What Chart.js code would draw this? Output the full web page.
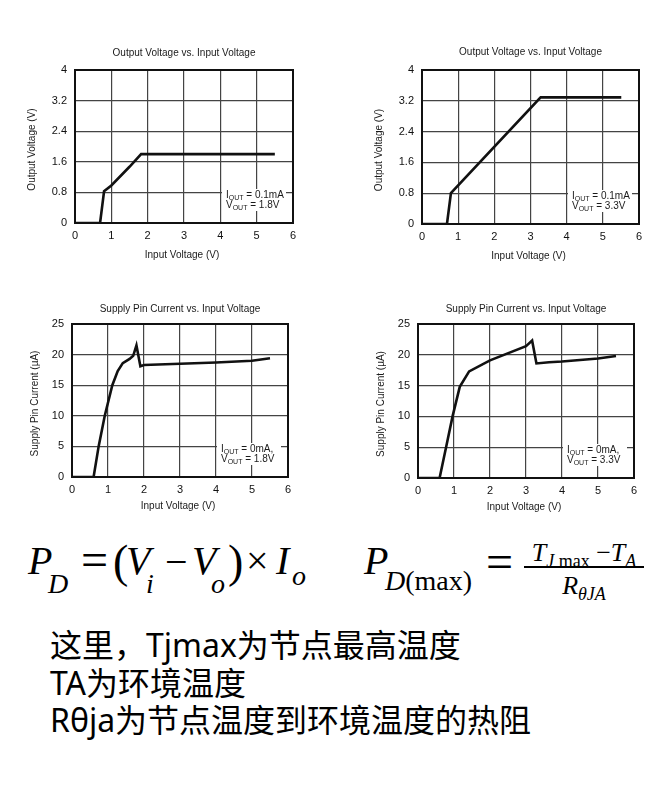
<!DOCTYPE html>
<html>
<head>
<meta charset="utf-8">
<script src="https://cdn.jsdelivr.net/npm/chart.js@4.4.1/dist/chart.umd.min.js"></script>
<style>
  html, body { margin: 0; padding: 0; background: #fff; }
  body { width: 654px; height: 785px; position: relative; overflow: hidden; }
  canvas.plot { position: absolute; }
  .g { position: absolute; font-family: 'Liberation Serif', 'Times New Roman', serif; color: #000; white-space: nowrap; line-height: 1; }
  .it { font-style: italic; }
  .frac { position: absolute; text-align: center; font-family: 'Liberation Serif', 'Times New Roman', serif; color: #000; white-space: nowrap; line-height: 1; font-size: 26px; }
  .frac .s { font-size: 18px; position: relative; top: 6px; }
  .txt { position: absolute; left: 50px; font-family: 'Noto Sans', 'Noto Sans CJK SC', sans-serif; font-size: 32px; line-height: 36px; color: #000; white-space: nowrap; }
</style>
</head>
<body>
<canvas class="plot" id="c1" width="327" height="230" style="left:0;top:40px"></canvas>
<canvas class="plot" id="c2" width="327" height="230" style="left:327px;top:40px"></canvas>
<canvas class="plot" id="c3" width="327" height="225" style="left:0;top:295px"></canvas>
<canvas class="plot" id="c4" width="327" height="225" style="left:327px;top:295px"></canvas>

<!-- P_D = (Vi - Vo) x Io   (top = baseline - 0.8375 * size) -->
<span class="g it" style="left:28px;top:541px;font-size:40px">P</span>
<span class="g it" style="left:48px;top:570px;font-size:28px">D</span>
<span class="g" style="left:81px;top:536px;font-size:48px">=</span>
<span class="g" style="left:113px;top:539px;font-size:46px">(</span>
<span class="g it" style="left:126px;top:541px;font-size:40px">V</span>
<span class="g it" style="left:146px;top:570px;font-size:28px">i</span>
<span class="g" style="left:165px;top:542px;font-size:40px">−</span>
<span class="g it" style="left:192px;top:541px;font-size:40px">V</span>
<span class="g it" style="left:211px;top:570px;font-size:28px">o</span>
<span class="g" style="left:228px;top:539px;font-size:46px">)</span>
<span class="g" style="left:246px;top:541px;font-size:40px">×</span>
<span class="g it" style="left:276px;top:541px;font-size:40px">I</span>
<span class="g it" style="left:292px;top:562px;font-size:28px">o</span>

<!-- P_D(max) = (TJmax - TA) / RthetaJA -->
<span class="g it" style="left:364px;top:541px;font-size:40px">P</span>
<span class="g" style="left:385px;top:567px;font-size:28px"><i>D</i>(max)</span>
<span class="g" style="left:486px;top:538px;font-size:48px">=</span>
<div class="frac" style="left:524px;top:540px;width:120px"><i>T</i><span class="s"><i>J</i> max</span> −<i>T</i><span class="s"><i>A</i></span></div>
<div style="position:absolute;left:524px;top:566px;width:120px;height:1.5px;background:#000"></div>
<div class="frac" style="left:524px;top:573px;width:120px"><i>R</i><span class="s"><i>θJA</i></span></div>

<div class="txt" style="top:627px">这里，Tjmax为节点最高温度</div>
<div class="txt" style="top:665px">TA为环境温度</div>
<div class="txt" style="top:702px">Rθja为节点温度到环境温度的热阻</div>

<script>
// tick values
const xTicks = [0, 1, 2, 3, 4, 5, 6];
const voutTicks = [0, 0.8, 1.6, 2.4, 3.2, 4];
const isupTicks = [0, 5, 10, 15, 20, 25];

// Output voltage vs input voltage, VOUT = 1.8V
const vin18 = [0, 0.69, 0.8, 1.0, 1.5, 1.82, 5.5];
const vout18 = [0, 0, 0.83, 0.98, 1.47, 1.8, 1.8];

// Output voltage vs input voltage, VOUT = 3.3V
const vin33 = [0, 0.69, 0.8, 3.28, 5.51];
const vout33 = [0, 0, 0.8, 3.29, 3.29];

// Supply pin current vs input voltage, VOUT = 1.8V
const vinI18 = [0, 0.6, 0.74, 0.91, 1.12, 1.27, 1.41, 1.6, 1.7, 1.79, 1.9, 2.0, 3.0, 4.0, 5.0, 5.5];
const isup18 = [0, 0, 5, 10, 15, 17.3, 18.6, 19.3, 19.8, 21.5, 18.1, 18.3, 18.5, 18.7, 19.0, 19.4];

// Supply pin current vs input voltage, VOUT = 3.3V
const vinI33 = [0, 0.6, 0.78, 0.96, 1.16, 1.42, 2.0, 3.0, 3.17, 3.29, 3.64, 4.0, 5.0, 5.5];
const isup33 = [0, 0, 5, 10, 14.8, 17.3, 19.1, 21.4, 22.3, 18.6, 18.8, 18.9, 19.4, 19.8];

const FONT = "'Liberation Sans', Arial, sans-serif";

function drawNote(ctx, x, y, main, sub, rest) {
  ctx.font = `10px ${FONT}`;
  ctx.fillText(main, x, y);
  let w = ctx.measureText(main).width;
  ctx.font = `7px ${FONT}`;
  ctx.fillText(sub, x + w, y + 3);
  w += ctx.measureText(sub).width;
  ctx.font = `10px ${FONT}`;
  ctx.fillText(rest, x + w, y);
}

function makeChart(id, opt) {
  const cv = document.getElementById(id);
  const W = cv.width, H = cv.height;
  const p = opt.plot;
  const points = opt.xs.map((x, i) => ({ x, y: opt.ys[i] }));

  const texts = {
    id: 'texts',
    beforeDatasetsDraw(chart) {
      const { ctx, chartArea: a } = chart;
      ctx.save();
      ctx.strokeStyle = '#111';
      ctx.lineWidth = 2;
      ctx.strokeRect(a.left, a.top, a.right - a.left, a.bottom - a.top);
      ctx.restore();
    },
    afterDatasetsDraw(chart) {
      const { ctx, chartArea: a } = chart;
      ctx.save();
      // note box
      ctx.fillStyle = '#fff';
      ctx.fillRect(a.right - 71, a.bottom - 34, 64, 22);
      ctx.fillStyle = '#1a1a1a';
      ctx.textBaseline = 'middle';
      ctx.textAlign = 'left';
      drawNote(ctx, a.right - 67, a.bottom - 28, 'I', 'OUT', opt.note[0]);
      drawNote(ctx, a.right - 67, a.bottom - 18, 'V', 'OUT', opt.note[1]);
      // titles
      ctx.font = `10px ${FONT}`;
      ctx.textAlign = 'center';
      ctx.fillText(opt.title, (a.left + a.right) / 2, opt.titleY);
      ctx.fillText('Input Voltage (V)', (a.left + a.right) / 2 - 2, a.bottom + opt.xTitleOff);
      ctx.translate(a.left - opt.yTitleOff, (a.top + a.bottom) / 2 + 3);
      ctx.rotate(-Math.PI / 2);
      ctx.fillText(opt.yTitle, 0, 0);
      ctx.restore();
    }
  };

  return new Chart(cv, {
    type: 'scatter',
    data: {
      datasets: [{
        data: points,
        showLine: true,
        borderColor: '#111',
        borderWidth: 2.6,
        pointRadius: 0,
        tension: 0,
        fill: false,
      }],
    },
    options: {
      responsive: false,
      animation: false,
      devicePixelRatio: 1,
      layout: { padding: { top: p.t, right: W - p.r, left: 0, bottom: 0 } },
      plugins: { legend: { display: false }, tooltip: { enabled: false }, title: { display: false } },
      scales: {
        x: {
          type: 'linear',
          min: 0, max: 6,
          afterBuildTicks: (s) => { s.ticks = xTicks.map((v) => ({ value: v })); },
          afterFit: (s) => { s.height = H - p.b; },
          grid: { color: '#444', lineWidth: 1.2, drawTicks: false },
          border: { display: false },
          ticks: { padding: 6, color: '#111', font: { family: FONT, size: 11 }, maxRotation: 0, autoSkip: false, callback: (v) => String(v) },
        },
        y: {
          type: 'linear',
          min: opt.yTicks[0], max: opt.yTicks[opt.yTicks.length - 1],
          afterBuildTicks: (s) => { s.ticks = opt.yTicks.map((v) => ({ value: v })); },
          afterFit: (s) => { s.width = p.l; },
          grid: { color: '#444', lineWidth: 1.2, drawTicks: false },
          border: { display: false },
          ticks: { padding: 8, color: '#111', font: { family: FONT, size: 11 }, autoSkip: false, callback: (v) => String(v) },
        },
      },
    },
    plugins: [texts],
  });
}

makeChart('c1', {
  plot: { l: 75, t: 30, r: 293, b: 183 },
  xs: vin18, ys: vout18, yTicks: voutTicks,
  title: 'Output Voltage vs. Input Voltage', titleY: 13,
  yTitle: 'Output Voltage (V)', yTitleOff: 43, xTitleOff: 32,
  note: [' = 0.1mA', ' = 1.8V'],
});
makeChart('c2', {
  plot: { l: 95, t: 30, r: 312, b: 184 },
  xs: vin33, ys: vout33, yTicks: voutTicks,
  title: 'Output Voltage vs. Input Voltage', titleY: 12,
  yTitle: 'Output Voltage (V)', yTitleOff: 43, xTitleOff: 32,
  note: [' = 0.1mA', ' = 3.3V'],
});
makeChart('c3', {
  plot: { l: 72, t: 29, r: 288, b: 182 },
  xs: vinI18, ys: isup18, yTicks: isupTicks,
  title: 'Supply Pin Current vs. Input Voltage', titleY: 14,
  yTitle: 'Supply Pin Current (µA)', yTitleOff: 37, xTitleOff: 29,
  note: [' = 0mA,', ' = 1.8V'],
});
makeChart('c4', {
  plot: { l: 91, t: 29, r: 307, b: 183 },
  xs: vinI33, ys: isup33, yTicks: isupTicks,
  title: 'Supply Pin Current vs. Input Voltage', titleY: 14,
  yTitle: 'Supply Pin Current (µA)', yTitleOff: 37, xTitleOff: 29,
  note: [' = 0mA,', ' = 3.3V'],
});
</script>
</body>
</html>
